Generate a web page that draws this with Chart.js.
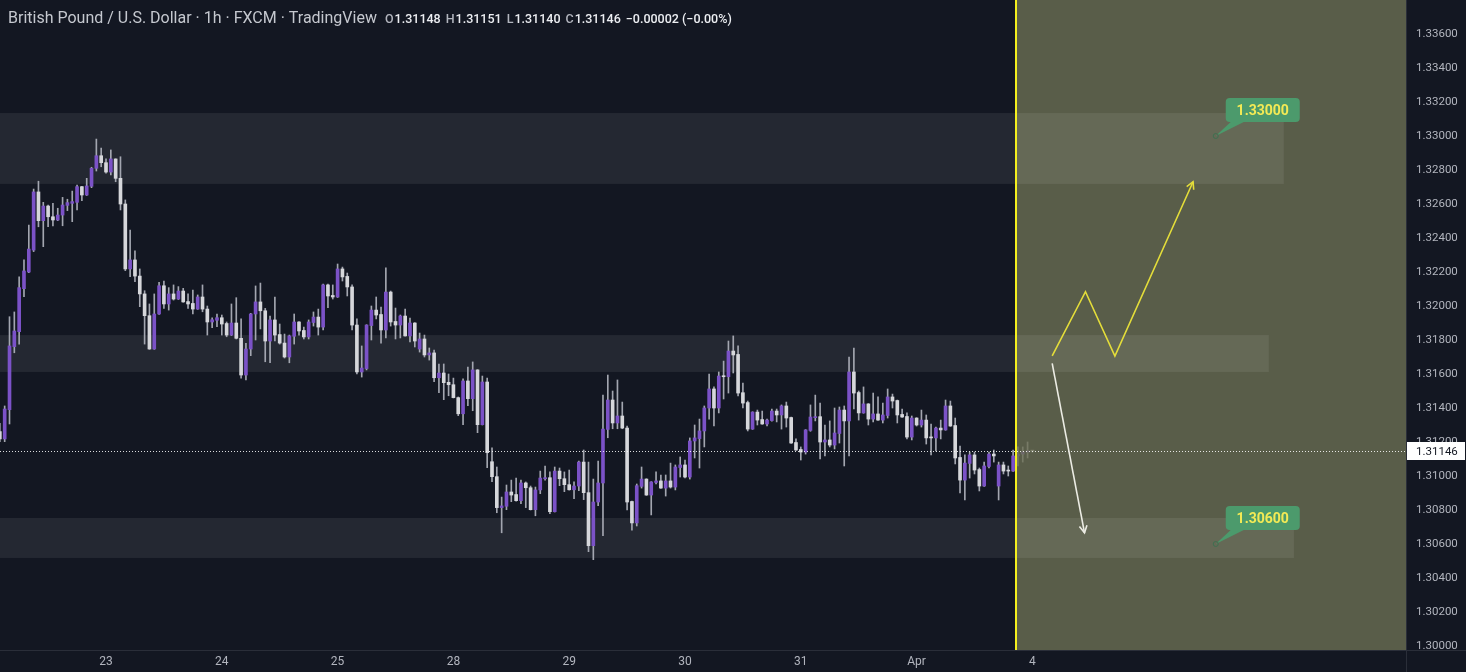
<!DOCTYPE html>
<html>
<head>
<meta charset="utf-8">
<script src="https://cdn.jsdelivr.net/npm/chart.js@4.4.1/dist/chart.umd.min.js"></script>
<style>
  html, body { margin: 0; padding: 0; background: #131722; overflow: hidden; }
  #wrap { position: relative; width: 1466px; height: 672px; }
</style>
</head>
<body>
<div id="wrap"><canvas id="chart"></canvas></div>
<script>
// ================= DATA =================
// GBP/USD 1h candles, 22 Mar 2022 -> 4 Apr 2022
const opens = [
  1.31261,1.31218,1.31390,1.31761,1.31849,1.32102,1.32200,1.32329,1.32671,1.32502,
  1.32588,1.32525,1.32506,1.32535,1.32592,1.32604,1.32610,1.32702,1.32653,1.32704,
  1.32810,1.32884,1.32843,1.32788,1.32865,1.32751,1.32600,1.32218,1.32271,1.32176,
  1.32071,1.31943,1.31747,1.31953,1.32119,1.32012,1.32071,1.32041,1.32088,1.32026,
  1.32015,1.31982,1.32053,1.31982,1.31906,1.31916,1.31931,1.31897,1.31829,1.31900,
  1.31810,1.31594,1.31747,1.31953,1.32024,1.31972,1.31794,1.31918,1.31832,1.31782,
  1.31700,1.31822,1.31906,1.31856,1.31818,1.31903,1.31935,1.31876,1.32124,1.32062,
  1.32053,1.32218,1.32174,1.32112,1.31888,1.31612,1.31632,1.31885,1.31976,1.31950,
  1.31859,1.32082,1.31909,1.31888,1.31941,1.31824,1.31900,1.31747,1.31806,1.31712,
  1.31724,1.31578,1.31606,1.31551,1.31537,1.31461,1.31366,1.31559,1.31455,1.31624,
  1.31302,1.31553,1.31084,1.30996,1.30814,1.30822,1.30906,1.30891,1.30855,1.30959,
  1.30931,1.30802,1.30918,1.30984,1.30990,1.30790,1.31029,1.30984,1.30949,1.30919,
  1.30941,1.31082,1.30902,1.30590,1.30847,1.30959,1.31274,1.31447,1.31312,1.31353,
  1.31282,1.30850,1.30724,1.30939,1.30982,1.30888,1.30962,1.30971,1.30929,1.30971,
  1.30935,1.31050,1.31065,1.30994,1.31206,1.31220,1.31265,1.31400,1.31512,1.31400,
  1.31588,1.31584,1.31735,1.31715,1.31490,1.31432,1.31276,1.31376,1.31332,1.31306,
  1.31326,1.31382,1.31359,1.31412,1.31344,1.31197,1.31156,1.31141,1.31268,1.31343,
  1.31349,1.31200,1.31212,1.31182,1.31250,1.31388,1.31324,1.31612,1.31491,1.31371,
  1.31424,1.31335,1.31365,1.31329,1.31356,1.31465,1.31444,1.31362,1.31350,1.31229,
  1.31341,1.31300,1.31329,1.31227,1.31224,1.31282,1.31271,1.31412,1.31297,1.31109,
  1.30976,1.31074,1.31124,1.31038,1.30941,1.31056,1.31129,1.30941,1.31065,1.31032,
  1.31029,1.31118,1.31129,1.31141,1.31148
];
const highs = [
  1.31310,1.31412,1.31937,1.31965,1.32172,1.32271,1.32476,1.32688,1.32734,1.32610,
  1.32594,1.32604,1.32575,1.32639,1.32628,1.32676,1.32712,1.32704,1.32751,1.32816,
  1.32982,1.32929,1.32865,1.32918,1.32866,1.32878,1.32624,1.32447,1.32324,1.32218,
  1.32090,1.32012,1.32071,1.32139,1.32147,1.32108,1.32124,1.32114,1.32104,1.32071,
  1.32094,1.32065,1.32124,1.32000,1.31931,1.31953,1.31947,1.31906,1.32012,1.32049,
  1.31924,1.31781,1.31957,1.32118,1.32135,1.31986,1.31941,1.32053,1.31894,1.31835,
  1.31829,1.31953,1.31908,1.31876,1.31918,1.31965,1.31982,1.32129,1.32129,1.32124,
  1.32247,1.32229,1.32194,1.32124,1.31924,1.31765,1.31890,1.32000,1.32053,1.31994,
  1.32224,1.32088,1.31988,1.31947,1.31982,1.31929,1.31902,1.31841,1.31829,1.31753,
  1.31741,1.31659,1.31659,1.31600,1.31576,1.31465,1.31571,1.31641,1.31671,1.31626,
  1.31588,1.31576,1.31165,1.31053,1.30876,1.30947,1.30976,1.30988,1.30976,1.30965,
  1.30941,1.30935,1.31029,1.31059,1.31024,1.31053,1.31047,1.31024,1.31035,1.30965,
  1.31088,1.31153,1.31082,1.30982,1.31088,1.31476,1.31594,1.31500,1.31565,1.31435,
  1.31294,1.30853,1.30953,1.31053,1.30984,1.30967,1.31024,1.31006,1.31006,1.31076,
  1.31065,1.31112,1.31094,1.31224,1.31300,1.31335,1.31412,1.31600,1.31524,1.31612,
  1.31676,1.31794,1.31824,1.31765,1.31547,1.31441,1.31378,1.31388,1.31382,1.31335,
  1.31394,1.31394,1.31418,1.31435,1.31347,1.31218,1.31171,1.31273,1.31418,1.31476,
  1.31429,1.31300,1.31324,1.31400,1.31406,1.31412,1.31700,1.31753,1.31500,1.31524,
  1.31426,1.31488,1.31465,1.31429,1.31512,1.31482,1.31447,1.31394,1.31371,1.31353,
  1.31343,1.31388,1.31359,1.31306,1.31288,1.31329,1.31447,1.31441,1.31341,1.31176,
  1.31124,1.31141,1.31141,1.31047,1.31082,1.31141,1.31153,1.31082,1.31082,1.31059,
  1.31153,1.31171,1.31171,1.31200,1.31151
];
const lows = [
  1.31202,1.31202,1.31306,1.31725,1.31776,1.32055,1.32196,1.32320,1.32466,1.32349,
  1.32466,1.32471,1.32502,1.32472,1.32561,1.32496,1.32565,1.32619,1.32650,1.32696,
  1.32794,1.32819,1.32781,1.32771,1.32731,1.32565,1.32208,1.32172,1.32143,1.31996,
  1.31776,1.31745,1.31745,1.31950,1.31986,1.31976,1.32035,1.32038,1.32022,1.31986,
  1.31953,1.31980,1.31966,1.31829,1.31872,1.31878,1.31829,1.31819,1.31826,1.31806,
  1.31575,1.31565,1.31708,1.31800,1.31865,1.31672,1.31666,1.31794,1.31776,1.31694,
  1.31666,1.31776,1.31829,1.31806,1.31806,1.31882,1.31829,1.31859,1.31990,1.32041,
  1.32050,1.32147,1.32059,1.31859,1.31600,1.31582,1.31624,1.31800,1.31924,1.31782,
  1.31812,1.31882,1.31806,1.31812,1.31822,1.31788,1.31759,1.31729,1.31700,1.31682,
  1.31555,1.31490,1.31449,1.31472,1.31459,1.31355,1.31302,1.31414,1.31384,1.31255,
  1.31300,1.31049,1.30966,1.30784,1.30666,1.30802,1.30849,1.30852,1.30837,1.30814,
  1.30800,1.30766,1.30896,1.30976,1.30778,1.30788,1.30943,1.30908,1.30917,1.30866,
  1.30914,1.30861,1.30555,1.30508,1.30825,1.30649,1.31225,1.31278,1.31278,1.31278,
  1.30800,1.30682,1.30706,1.30929,1.30886,1.30771,1.30953,1.30927,1.30882,1.30929,
  1.30918,1.30994,1.30988,1.30982,1.31106,1.31047,1.31171,1.31335,1.31294,1.31371,
  1.31453,1.31488,1.31606,1.31471,1.31400,1.31265,1.31274,1.31300,1.31304,1.31294,
  1.31322,1.31318,1.31276,1.31288,1.31192,1.31151,1.31094,1.31129,1.31263,1.31324,
  1.31100,1.31118,1.31171,1.31159,1.31194,1.31059,1.31118,1.31394,1.31329,1.31369,
  1.31300,1.31318,1.31327,1.31312,1.31341,1.31400,1.31312,1.31345,1.31218,1.31212,
  1.31294,1.31288,1.31188,1.31124,1.31147,1.31218,1.31269,1.31292,1.31071,1.30900,
  1.30859,1.30988,1.31012,1.30912,1.30939,1.31047,1.31082,1.30859,1.31012,1.31000,
  1.31027,1.31059,1.31082,1.31106,1.31140
];
const closes = [
  1.31218,1.31394,1.31765,1.31853,1.32108,1.32206,1.32335,1.32671,1.32502,1.32588,
  1.32525,1.32506,1.32535,1.32594,1.32608,1.32614,1.32702,1.32653,1.32706,1.32810,
  1.32884,1.32843,1.32788,1.32865,1.32751,1.32600,1.32218,1.32271,1.32176,1.32071,
  1.31943,1.31747,1.31953,1.32119,1.32012,1.32071,1.32041,1.32088,1.32024,1.32012,
  1.31982,1.32053,1.31982,1.31906,1.31919,1.31931,1.31894,1.31829,1.31900,1.31810,
  1.31594,1.31747,1.31953,1.32024,1.31972,1.31794,1.31918,1.31829,1.31782,1.31700,
  1.31824,1.31906,1.31853,1.31818,1.31906,1.31935,1.31876,1.32124,1.32059,1.32053,
  1.32218,1.32171,1.32112,1.31888,1.31612,1.31635,1.31888,1.31976,1.31947,1.31859,
  1.32082,1.31906,1.31888,1.31941,1.31824,1.31900,1.31794,1.31806,1.31712,1.31724,
  1.31578,1.31606,1.31549,1.31537,1.31461,1.31366,1.31559,1.31455,1.31624,1.31302,
  1.31553,1.31137,1.30996,1.30814,1.30824,1.30906,1.30888,1.30855,1.30959,1.30931,
  1.30802,1.30918,1.30988,1.30990,1.30790,1.31029,1.30984,1.30949,1.30919,1.30941,
  1.31082,1.30902,1.30590,1.30847,1.30959,1.31276,1.31447,1.31312,1.31353,1.31282,
  1.30847,1.30724,1.30943,1.30982,1.30888,1.30965,1.30971,1.30929,1.30971,1.30935,
  1.31053,1.31065,1.30994,1.31206,1.31224,1.31265,1.31400,1.31512,1.31400,1.31588,
  1.31584,1.31735,1.31712,1.31488,1.31429,1.31276,1.31376,1.31329,1.31306,1.31329,
  1.31382,1.31359,1.31412,1.31341,1.31194,1.31153,1.31141,1.31271,1.31347,1.31349,
  1.31200,1.31212,1.31182,1.31253,1.31388,1.31324,1.31612,1.31488,1.31371,1.31424,
  1.31335,1.31365,1.31329,1.31359,1.31465,1.31441,1.31359,1.31347,1.31229,1.31341,
  1.31300,1.31329,1.31224,1.31224,1.31282,1.31271,1.31412,1.31294,1.31106,1.30976,
  1.31076,1.31124,1.31035,1.30941,1.31059,1.31129,1.31118,1.31065,1.31029,1.31029,
  1.31118,1.31129,1.31141,1.31148,1.31146
];

// x axis: candle index of each day start and its label
const dayIdx    = [22, 46, 70, 94, 118, 142, 166, 190, 214];
const dayLabels = ["23", "24", "25", "28", "29", "30", "31", "Apr", "4"];

// y axis ticks
const priceTicks = [1.300,1.302,1.304,1.306,1.308,1.310,1.312,1.314,1.316,1.318,
                    1.320,1.322,1.324,1.326,1.328,1.330,1.332,1.334,1.336];

// drawings: supply/demand zones (top price, bottom price, end index)
const zoneTop    = [1.33135, 1.31829, 1.30753];
const zoneBottom = [1.32718, 1.31612, 1.30518];
const zoneEnd    = [266.1, 263.0, 268.2];

// forecast area starts here (candle index)
const forecastStart = 210.6;

// forecast paths: [index, price]
const bullPath = [[218.1, 1.31706], [225.0, 1.32084], [231.1, 1.31706], [247.3, 1.32731]];
const bearPath = [[218.1, 1.31663], [224.8, 1.30666]];

// target callouts
const targetIdx    = [252.0, 252.0];
const targetPrices = [1.33000, 1.30600];

// header
const lastPrice = 1.31146;
const header = "British Pound / U.S. Dollar · 1h · FXCM · TradingView";
const ohlc = [["O","1.31148"],["H","1.31151"],["L","1.31140"],["C","1.31146"]];
const change = "−0.00002 (−0.00%)";

// ================= STYLE =================
const BG = "#131722";
const UP = "#7b52c7";
const DOWN = "#d6d7db";
const WICK = "#a3a6b0";
const TEXT = "#b2b5be";
const FONT = "Roboto, 'Liberation Sans', sans-serif";

const candleIdx = opens.map((_, i) => i);
const isUp = closes.map((c, i) => c >= opens[i]);

// ================= PLUGIN =================
function arrowHead(ctx, x0, y0, x1, y1, len){
    const a = Math.atan2(y1 - y0, x1 - x0);
    ctx.beginPath();
    ctx.moveTo(x1 - len*Math.cos(a - 0.5), y1 - len*Math.sin(a - 0.5));
    ctx.lineTo(x1, y1);
    ctx.lineTo(x1 - len*Math.cos(a + 0.5), y1 - len*Math.sin(a + 0.5));
    ctx.stroke();
}

function drawPath(chart, path, color){
    const {ctx, scales:{x, y}} = chart;
    const pts = path.map(p => [x.getPixelForValue(p[0]), y.getPixelForValue(p[1])]);
    ctx.save();
    ctx.strokeStyle = color;
    ctx.lineWidth = 1.6;
    ctx.beginPath();
    pts.forEach((p, i) => i ? ctx.lineTo(p[0], p[1]) : ctx.moveTo(p[0], p[1]));
    ctx.stroke();
    const n = pts.length;
    arrowHead(ctx, pts[n-2][0], pts[n-2][1], pts[n-1][0], pts[n-1][1], 8);
    ctx.restore();
}

const tvPlugin = {
    id: "tv",
    beforeDraw(chart){
        const {ctx, width, height} = chart;
        ctx.save();
        ctx.fillStyle = BG;
        ctx.fillRect(0, 0, width, height);
        ctx.restore();
    },
    beforeDatasetsDraw(chart){
        // zones behind the candles
        const {ctx, chartArea:a, scales:{x, y}} = chart;
        const xs = x.getPixelForValue(forecastStart);
        ctx.save();
        ctx.fillStyle = "rgba(255,255,255,0.075)";
        zoneTop.forEach((t, i) => {
            const y0 = y.getPixelForValue(t), y1 = y.getPixelForValue(zoneBottom[i]);
            ctx.fillRect(a.left, y0, xs - a.left, y1 - y0);
        });
        ctx.restore();
    },
    afterDatasetsDraw(chart){
        const {ctx, chartArea:a, scales:{x, y}} = chart;
        const xs = x.getPixelForValue(forecastStart);
        ctx.save();
        // forecast area
        ctx.fillStyle = "rgba(108,111,84,0.8)";
        ctx.fillRect(xs, a.top, a.right - xs, a.bottom - a.top);
        // zones continuing into forecast area
        ctx.fillStyle = "rgba(255,255,255,0.075)";
        zoneTop.forEach((t, i) => {
            const y0 = y.getPixelForValue(t), y1 = y.getPixelForValue(zoneBottom[i]);
            const xe = x.getPixelForValue(zoneEnd[i]);
            ctx.fillRect(xs, y0, xe - xs, y1 - y0);
        });
        // start line
        ctx.fillStyle = "#f5f01e";
        ctx.fillRect(Math.round(xs) - 1, a.top, 2, a.bottom - a.top);
        // last price dotted line
        const yp = Math.round(y.getPixelForValue(lastPrice)) + 0.5;
        ctx.strokeStyle = "rgba(255,255,255,0.85)";
        ctx.lineWidth = 1;
        ctx.setLineDash([1, 2]);
        ctx.beginPath();
        ctx.moveTo(a.left, yp);
        ctx.lineTo(a.right, yp);
        ctx.stroke();
        ctx.setLineDash([]);
        ctx.restore();

        drawPath(chart, bullPath, "#e4dd3a");
        drawPath(chart, bearPath, "#ecece4");

        // target callouts
        ctx.save();
        targetPrices.forEach((p, i) => {
            const tx = x.getPixelForValue(targetIdx[i]);
            const ty = y.getPixelForValue(p);
            const bx = tx + 10, by = ty - 38, bw = 74, bh = 24;
            ctx.fillStyle = "#4c9a6c";
            ctx.beginPath();
            ctx.moveTo(tx, ty);
            ctx.lineTo(bx + 6, by + bh - 1);
            ctx.lineTo(bx + 20, by + bh - 1);
            ctx.closePath();
            ctx.fill();
            ctx.beginPath();
            ctx.roundRect(bx, by, bw, bh, 4);
            ctx.fill();
            ctx.strokeStyle = "#3f6f50";
            ctx.lineWidth = 1;
            ctx.beginPath();
            ctx.arc(tx, ty, 2.5, 0, Math.PI*2);
            ctx.stroke();
            ctx.fillStyle = "#f3ea55";
            ctx.font = "bold 14px " + FONT;
            ctx.textAlign = "center";
            ctx.textBaseline = "middle";
            ctx.fillText(p.toFixed(5), bx + bw/2, by + bh/2 + 1);
        });
        ctx.restore();
    },
    afterDraw(chart){
        const {ctx, chartArea:a, width, height, scales:{y}} = chart;
        ctx.save();
        // hide axis label spill into the time axis row
        ctx.fillStyle = BG;
        ctx.fillRect(a.right + 1, a.bottom, width - a.right, height - a.bottom);
        // axis borders
        ctx.fillStyle = "#2a2e39";
        ctx.fillRect(a.right, 0, 1, height);
        ctx.fillRect(0, a.bottom, width, 1);
        // last price label
        const yp = Math.round(y.getPixelForValue(lastPrice));
        ctx.fillStyle = "#ffffff";
        ctx.fillRect(a.right + 1, yp - 9, width - a.right - 2, 18);
        ctx.fillStyle = "#131722";
        ctx.font = "11.5px " + FONT;
        ctx.textBaseline = "middle";
        ctx.textAlign = "left";
        ctx.fillText(lastPrice.toFixed(5), a.right + 10, yp + 1);
        // header
        ctx.font = "16px " + FONT;
        ctx.fillStyle = "#c5c8cf";
        ctx.textBaseline = "alphabetic";
        ctx.fillText(header, 8, 23);
        let hx = 385;
        ctx.font = "500 12.5px " + FONT;
        ohlc.forEach(([k, v]) => {
            ctx.fillStyle = TEXT;
            ctx.fillText(k, hx, 23);
            hx += ctx.measureText(k).width + 1;
            ctx.fillStyle = "#eceef2";
            ctx.fillText(v, hx, 23);
            hx += ctx.measureText(v).width + 5;
        });
        ctx.fillStyle = "#eceef2";
        ctx.fillText(change, hx, 23);
        ctx.restore();
    }
};

// ================= CHART =================
const ctx = document.getElementById("chart").getContext("2d");
new Chart(ctx, {
    type: "bar",
    data: {
        datasets: [
            {
                label: "body",
                data: candleIdx.map(i => ({x: i, y: [opens[i], closes[i]]})),
                backgroundColor: candleIdx.map(i => isUp[i] ? UP : DOWN),
                barThickness: 3,
                minBarLength: 1,
                grouped: false,
                order: 0
            },
            {
                label: "wick",
                data: candleIdx.map(i => ({x: i, y: [lows[i], highs[i]]})),
                backgroundColor: WICK,
                barThickness: 1,
                grouped: false,
                order: 1
            }
        ]
    },
    options: {
        responsive: true,
        maintainAspectRatio: false,
        animation: false,
        layout: {padding: 0},
        plugins: {legend: {display: false}, tooltip: {enabled: false}},
        scales: {
            x: {
                type: "linear",
                offset: false,
                min: 0.03,
                max: 291.43,
                grid: {display: false, drawTicks: false, offset: false},
                border: {display: false},
                afterBuildTicks: s => { s.ticks = dayIdx.map(v => ({value: v})); },
                afterFit: s => { s.height = 22; s.paddingLeft = 0; s.paddingRight = 0; },
                ticks: {
                    autoSkip: false,
                    maxRotation: 0,
                    padding: 5,
                    color: TEXT,
                    font: {family: FONT, size: 12},
                    callback: v => dayLabels[dayIdx.indexOf(v)]
                }
            },
            y: {
                type: "linear",
                position: "right",
                min: 1.299765,
                max: 1.338,
                grid: {display: false, drawTicks: false},
                border: {display: false},
                afterBuildTicks: s => { s.ticks = priceTicks.map(v => ({value: v})); },
                afterFit: s => { s.width = 60; s.paddingTop = 0; s.paddingBottom = 0; },
                ticks: {
                    padding: 10,
                    color: TEXT,
                    font: {family: FONT, size: 11.5},
                    callback: v => v.toFixed(5)
                }
            }
        }
    },
    plugins: [tvPlugin]
});
</script>
</body>
</html>
